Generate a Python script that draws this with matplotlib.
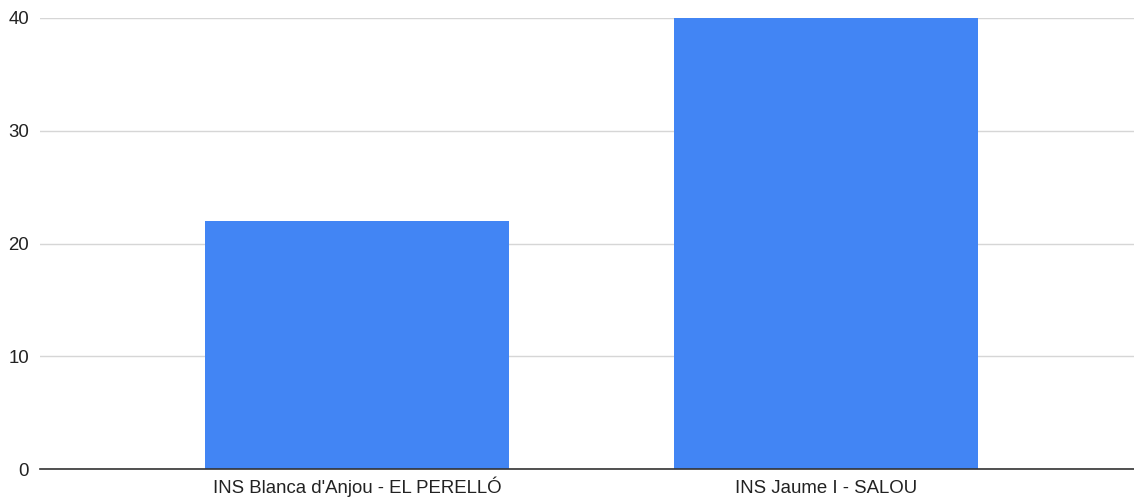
import matplotlib
matplotlib.use("Agg")
import matplotlib.pyplot as plt

categories = ["INS Blanca d'Anjou - EL PERELLÓ", "INS Jaume I - SALOU"]
values = [22, 40]
yticks = [0, 10, 20, 30, 40]

plt.rcParams['font.family'] = ['Liberation Sans', 'DejaVu Sans']

fig = plt.figure(figsize=(11.34, 4.99), dpi=100)
W, H = 1134, 499
ax = fig.add_axes([40 / W, (H - 469) / H, (W - 40) / W, (469 - 18) / H])

x = list(range(len(categories)))
ax.bar(x, values, width=0.648, color='#4285F4', zorder=3)

ax.set_ylim(0, 40)
ax.set_xlim(-0.676, 1.657)
ax.set_yticks(yticks)
ax.set_yticklabels([str(v) for v in yticks])
ax.set_xticks(x)
ax.set_xticklabels(categories)

ax.grid(axis='y', color='#d6d6d6', linewidth=1, zorder=0)
for s in ['top', 'right', 'left']:
    ax.spines[s].set_visible(False)
ax.spines['bottom'].set_color('#333333')
ax.spines['bottom'].set_linewidth(1.2)
ax.spines['bottom'].set_zorder(4)
ax.tick_params(axis='both', length=0, labelsize=13.4, colors='#222222')
ax.tick_params(axis='y', pad=8)
ax.tick_params(axis='x', pad=17.5)
for lbl in ax.get_xticklabels():
    lbl.set_verticalalignment('baseline')

fig.savefig('out.png', dpi=100)
